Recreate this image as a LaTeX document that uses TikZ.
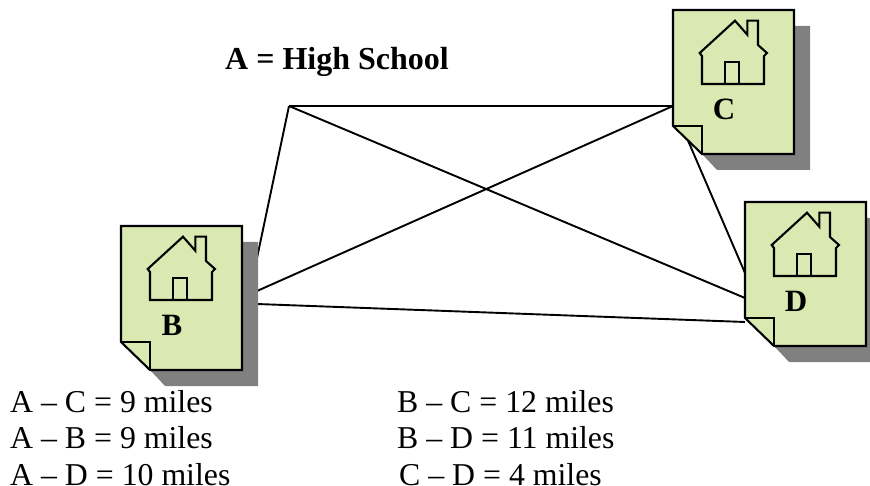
\documentclass[tikz,border=0pt]{standalone}
\usepackage{fontspec}
\setmainfont{Liberation Serif}
\usepackage{xcolor}
\usepackage{tikz}
\usetikzlibrary{positioning,calc}
\definecolor{sheetgreen}{HTML}{D9E9B1}
\definecolor{shadowgray}{HTML}{808080}

\tikzset{
  road/.style={draw=black, line width=1.9pt},
  outline/.style={draw=black, line width=2.1pt, line join=miter},
  milesline/.style={anchor=base west, inner sep=0pt, font=\fontsize{31.8}{34}\selectfont},
  letter/.style={inner sep=0pt, font=\fontsize{31}{34}\selectfont\bfseries},
  pics/card/.style={code={
    \fill[shadowgray] (121,16) -- (137,16) -- (137,160) -- (44,160) -- (29,144) -- cycle;
    \path[outline, fill=sheetgreen] (0,0) -- (121,0) -- (121,144) -- (29,144) -- (0,116) -- cycle;
    \path[outline] (0,116) -- (29,116) -- (29,144);
    % house
    \path[outline] (62,10.7) -- (74.3,24.7) -- (74.3,10.7) -- (85,10.7) -- (85,35) -- (94,43) -- (91,46) -- (91,74) -- (29,74) -- (29,46) -- (26.7,43) -- cycle;
    \path[outline] (52,74) -- (52,51.7) -- (65.7,51.7) -- (65.7,74);
    \node[letter] (name) at (51,99.5) {#1};
  }}
}

\begin{document}
\begin{tikzpicture}[x=1pt, y=-1pt]
\useasboundingbox (0,0) rectangle (870,486);
\coordinate (A) at (289,106);
\coordinate (Ca) at (673,106);
\coordinate (Cb) at (673,106);
\coordinate (Cd) at (680,122);
\coordinate (Ba) at (257,258);
\coordinate (Bc) at (257,291);
\coordinate (Bd) at (257,304);
\coordinate (Da) at (745,298);
\coordinate (Db) at (745,322);
\coordinate (Dc) at (745,273);
\draw[road] (A) -- (Ca);
\draw[road] (A) -- (Ba);
\draw[road] (A) -- (Da);
\draw[road] (Bc) -- (Cb);
\draw[road] (Bd) -- (Db);
\draw[road] (Cd) -- (Dc);
\pic (cardc) at (673,10) {card={C}};
\pic (cardb) at (121,226) {card={B}};
\pic (cardd) at (745,202) {card={D}};
\node[anchor=base west, inner sep=0pt, font=\fontsize{32}{35}\selectfont\bfseries] (school) at (225,70) {A = High School};
\node[milesline] (ac) at (10,412) {A -- C = 9 miles};
\node[milesline] (ab) at (10,448) {A -- B = 9 miles};
\node[milesline] (ad) at (10,485) {A -- D = 10 miles};
\node[milesline] (bc) at (397,412) {B -- C = 12 miles};
\node[milesline] (bd) at (397,448) {B -- D = 11 miles};
\node[milesline] (cd) at (399,485) {C -- D = 4 miles};
\end{tikzpicture}
\end{document}
